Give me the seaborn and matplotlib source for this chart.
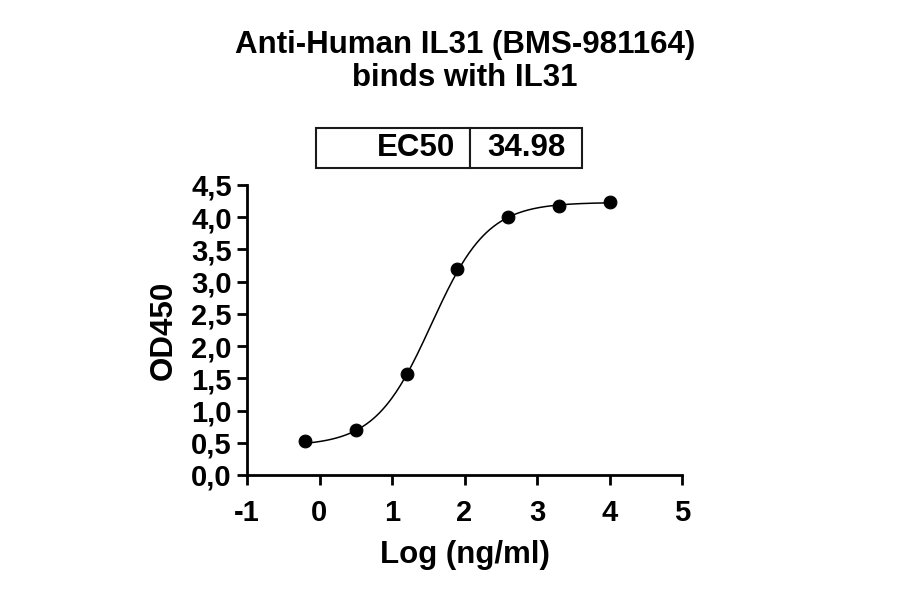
import numpy as np
import pandas as pd
import matplotlib
matplotlib.use("Agg")
import matplotlib.pyplot as plt
import seaborn as sns

# Data
log_conc = [-0.194, 0.505, 1.204, 1.903, 2.602, 3.301, 4.0]
od450 = [0.52, 0.70, 1.57, 3.19, 4.00, 4.18, 4.23]

# 4PL fit parameters (EC50 = 34.98 ng/ml)
bottom = 0.45
top = 4.23
ec50 = 34.98
hill = 1.12

x_ticks = [-1, 0, 1, 2, 3, 4, 5]
y_ticks = [0.0, 0.5, 1.0, 1.5, 2.0, 2.5, 3.0, 3.5, 4.0, 4.5]
y_tick_labels = [f"{v:.1f}".replace(".", ",") for v in y_ticks]

sns.set_theme(style="ticks")
plt.rcParams['font.family'] = ['Liberation Sans', 'DejaVu Sans']
plt.rcParams['font.weight'] = 'bold'
for key in ['text.color', 'axes.labelcolor', 'xtick.color', 'ytick.color', 'axes.edgecolor']:
    plt.rcParams[key] = 'black'

df = pd.DataFrame({"log": log_conc, "od": od450})

xs = np.linspace(min(log_conc), max(log_conc), 300)
fit = bottom + (top - bottom) / (1 + 10 ** ((np.log10(ec50) - xs) * hill))
fit_df = pd.DataFrame({"log": xs, "od": fit})

fig = plt.figure(figsize=(9, 5.94), dpi=100)
ax = fig.add_axes([247 / 900, 1 - 475 / 594, 435 / 900, 290 / 594])

sns.lineplot(data=fit_df, x="log", y="od", color="black", lw=1.1, ax=ax)
sns.scatterplot(data=df, x="log", y="od", color="black", s=85, edgecolor="black",
                zorder=3, ax=ax, clip_on=False)

ax.set_xlim(-1, 5)
ax.set_ylim(0, 4.5)
ax.set_xticks(x_ticks)
ax.set_xticklabels([str(t) for t in x_ticks])
ax.set_yticks(y_ticks)
ax.set_yticklabels(y_tick_labels)
ax.tick_params(axis="both", width=2, length=7, labelsize=21, direction="out")
ax.tick_params(axis="x", pad=10)
ax.tick_params(axis="y", pad=4)
for lab in ax.get_xticklabels() + ax.get_yticklabels():
    lab.set_fontweight("bold")
sns.despine(ax=ax)
for side in ["left", "bottom"]:
    ax.spines[side].set_linewidth(2)

ax.set_xlabel("Log (ng/ml)", fontsize=22.5, fontweight="bold", labelpad=10)
ax.set_ylabel("OD450", fontsize=22.5, fontweight="bold", labelpad=9)

fig.suptitle("Anti-Human IL31 (BMS-981164)\nbinds with IL31", fontsize=22.5,
             fontweight="bold", x=465 / 900, y=1 - 30 / 594, va="top", linespacing=1.15)

# EC50 table
tbl = ax.table(cellText=[["EC50", f"{ec50:.2f}"]],
               bbox=[(316 - 247) / 435, (475 - 168) / 290, 266 / 435, 40 / 290],
               colWidths=[0.58, 0.42], cellLoc="center")
tbl.auto_set_font_size(False)
for (r, c), cell in tbl.get_celld().items():
    cell.set_linewidth(1.5)
    cell.get_text().set_fontsize(22.5)
    cell.get_text().set_fontweight("bold")
    if c == 0:
        cell._loc = "right"
        cell.get_text().set_horizontalalignment("right")
        cell.PAD = 0.1

fig.savefig("out.png", dpi=100)
